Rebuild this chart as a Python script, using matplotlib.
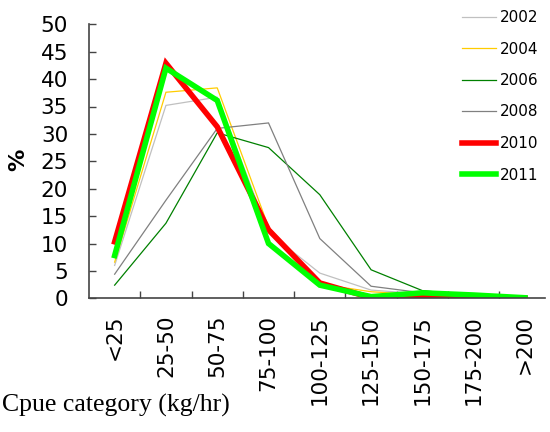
import matplotlib
matplotlib.use("Agg")
import matplotlib.pyplot as plt

categories = ["<25", "25-50", "50-75", "75-100", "100-125", "125-150", "150-175", "175-200", ">200"]
years = ["2002", "2004", "2006", "2008", "2010", "2011"]
v2002 = [6.0, 35.2, 36.7, 12.0, 4.6, 1.5, 0.8, 0.4, 0.1]
v2004 = [6.6, 37.6, 38.4, 13.0, 2.6, 1.2, 0.6, 0.3, 0.1]
v2006 = [2.4, 13.7, 30.2, 27.5, 18.9, 5.2, 1.4, 0.5, 0.1]
v2008 = [4.4, 17.9, 31.0, 32.0, 10.9, 2.2, 1.0, 0.4, 0.1]
v2010 = [10.3, 42.9, 31.3, 12.5, 2.8, 0.1, 0.3, 0.2, 0.0]
v2011 = [7.8, 42.0, 36.1, 10.0, 2.4, 0.3, 1.0, 0.6, 0.1]
series = [v2002, v2004, v2006, v2008, v2010, v2011]
colors = ["#c0c0c0", "#ffcc00", "#008000", "#808080", "#ff0000", "#00ff00"]
widths = [0.9, 0.9, 0.9, 0.9, 4.0, 4.0]

fig = plt.figure(figsize=(5.5, 4.32), dpi=100)
ax = fig.add_axes([89/550, 1 - 298.3/432, 456/550, (298.3 - 24.3)/432])
x = list(range(len(categories)))
for y, c, w, lab in zip(series, colors, widths, years):
    ax.plot(x, y, color=c, lw=w, label=lab, solid_joinstyle="miter")

ax.set_ylim(0, 50)
ax.set_xlim(-0.5, 8.39)
ax.set_yticks(range(0, 51, 5))
ax.set_xticks(x)
ax.set_xticklabels(categories, rotation=90, va="top", ha="center")
ax.set_xticks([i + 0.5 for i in range(8)], minor=True)
ax.tick_params(axis="x", which="major", length=0, pad=12, labelsize=15.5)
ax.tick_params(axis="x", which="minor", direction="in", length=5, width=1, color="#444444")
ax.tick_params(axis="y", direction="in", length=5, width=1, color="#444444", pad=15, labelsize=15.5)
for s in ["top", "right"]:
    ax.spines[s].set_visible(False)
for s in ["left", "bottom"]:
    ax.spines[s].set_color("#444444")
    ax.spines[s].set_linewidth(1.2)

fig.text(18/550, 1 - 160/432, "%", rotation=90, fontsize=16, fontweight="bold", ha="center", va="center")
fig.text(2/550, 1 - 405/432, "Cpue category (kg/hr)", family="Liberation Serif", fontsize=18.5, ha="left", va="center")

fig.legend(loc="upper left", bbox_to_anchor=(462/550, 1 - 10/432), frameon=False, fontsize=11,
           handlelength=2.2, handletextpad=0.3, labelspacing=1.08, borderpad=0, borderaxespad=0)

fig.savefig("out.png", dpi=100)
